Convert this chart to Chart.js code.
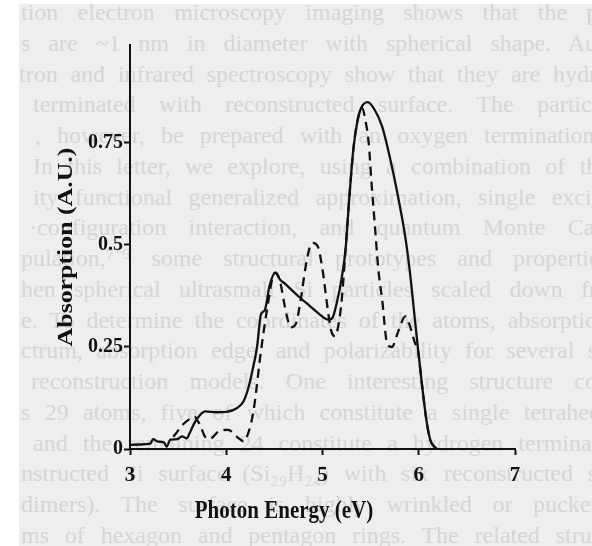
<!DOCTYPE html>
<html>
<head>
<meta charset="utf-8">
<script src="https://cdn.jsdelivr.net/npm/chart.js@4/dist/chart.umd.min.js"></script>
<style>
  html, body { margin: 0; padding: 0; background: #ffffff; }
  #page {
    position: absolute; left: 19px; top: 4px; width: 573px; height: 542px;
    background: #eeeeee; overflow: hidden;
  }
  #page div {
    position: absolute; white-space: nowrap; height: 30px;
    font-family: "Liberation Serif", serif; font-size: 24px; line-height: 24px;
    color: #d6d6d6; text-align: justify; text-align-last: justify;
  }
  #wrap { position: absolute; left: 0; top: 0; width: 592px; height: 546px; }
</style>
</head>
<body>
<div id="page"></div>
<div id="wrap"><canvas id="chart" width="592" height="546"></canvas></div>
<script>
// Photon energy (eV) and absorption (A.U.) for the two spectra
const solidEnergy = [3.00, 3.10, 3.21, 3.24, 3.29, 3.35, 3.38, 3.42, 3.49, 3.54, 3.59, 3.62, 3.67, 3.73, 3.78, 3.90, 4.00, 4.11, 4.18, 4.23, 4.27, 4.32, 4.36, 4.40, 4.45, 4.51, 4.56, 4.61, 4.70, 4.77, 4.87, 4.97, 5.06, 5.10, 5.15, 5.20, 5.24, 5.28, 5.32, 5.36, 5.40, 5.47, 5.54, 5.62, 5.72, 5.80, 5.86, 5.91, 5.95, 5.99, 6.03, 6.08, 6.12, 6.16, 6.19];
const solidAbs    = [0.010, 0.011, 0.013, 0.024, 0.018, 0.017, 0.006, 0.023, 0.024, 0.031, 0.026, 0.039, 0.064, 0.084, 0.092, 0.090, 0.091, 0.100, 0.117, 0.150, 0.190, 0.250, 0.330, 0.340, 0.400, 0.432, 0.415, 0.405, 0.385, 0.370, 0.350, 0.330, 0.317, 0.320, 0.360, 0.420, 0.490, 0.620, 0.733, 0.800, 0.835, 0.850, 0.832, 0.790, 0.693, 0.600, 0.520, 0.430, 0.340, 0.250, 0.165, 0.070, 0.022, 0.006, 0.000];

const dashedEnergy = [3.45, 3.50, 3.55, 3.61, 3.67, 3.70, 3.73, 3.78, 3.83, 3.92, 4.02, 4.11, 4.18, 4.23, 4.28, 4.31, 4.35, 4.39, 4.44, 4.48, 4.51, 4.56, 4.60, 4.63, 4.67, 4.72, 4.77, 4.82, 4.86, 4.90, 4.95, 5.00, 5.05, 5.09, 5.13, 5.17, 5.20, 5.24, 5.28, 5.32, 5.36, 5.41, 5.45, 5.48, 5.51, 5.55, 5.58, 5.62, 5.67, 5.72, 5.79, 5.86, 5.91, 5.96, 5.99, 6.03, 6.08, 6.12, 6.16, 6.19];
const dashedAbs    = [0.030, 0.045, 0.060, 0.072, 0.080, 0.070, 0.058, 0.030, 0.025, 0.043, 0.047, 0.030, 0.019, 0.040, 0.089, 0.140, 0.220, 0.290, 0.366, 0.420, 0.432, 0.410, 0.360, 0.325, 0.298, 0.305, 0.360, 0.440, 0.488, 0.505, 0.497, 0.440, 0.350, 0.290, 0.276, 0.310, 0.366, 0.490, 0.620, 0.733, 0.800, 0.836, 0.800, 0.750, 0.650, 0.530, 0.440, 0.366, 0.260, 0.250, 0.290, 0.325, 0.300, 0.260, 0.245, 0.165, 0.070, 0.022, 0.006, 0.000];

const xTicks = [3, 4, 5, 6, 7];
const yTicks = [0, 0.25, 0.5, 0.75];
const yTickLabels = ['0', '0.25', '0.5', '0.75'];
const xTitle = 'Photon Energy (eV)';
const yTitle = 'Absorption (A.U.)';

// Running text of the printed page behind the figure
const pageLines = [
  'tion electron microscopy imaging shows that the pa',
  's are ~1 nm in diameter with spherical shape. Aug',
  'tron and infrared spectroscopy show that they are hydro',
  'terminated with reconstructed surface. The particle',
  ', however, be prepared with an oxygen termination.\u2076',
  'In this letter, we explore, using a combination of the',
  'ity functional generalized approximation, single excita',
  '\u00b7configuration interaction, and quantum Monte Carl',
  'pulation,\u2077\u207b\u2079 some structural prototypes and properties',
  'hen spherical ultrasmall Si particles scaled down fro',
  'e. To determine the coordinates of the atoms, absorption',
  'ctrum, absorption edge, and polarizability for several su',
  'reconstruction models. One interesting structure con',
  's 29 atoms, five of which constitute a single tetrahedr',
  'and the remaining 24 constitute a hydrogen terminate',
  'nstructed Si surface (Si\u2082\u2089H\u2082\u2084) with six reconstructed su',
  'dimers). The surface is highly wrinkled or puckere',
  'ms of hexagon and pentagon rings. The related struct'
];
const pageIndent = [2, 2, 0, 14, 16, 14, 14, 10, 2, 2, 2, 2, 12, 2, 14, 2, 2, 2];

const page = document.getElementById('page');
pageLines.forEach((t, i) => {
  const d = document.createElement('div');
  d.textContent = t;
  d.style.top = (-4 + i * 30.75) + 'px';
  d.style.left = pageIndent[i] + 'px';
  d.style.width = (590 - pageIndent[i]) + 'px';
  page.appendChild(d);
});

const INK = '#111111';
const tickFont = { family: '"Liberation Serif", serif', size: 21, weight: 'bold' };

function toPoints(xs, ys) { return xs.map((x, i) => ({ x: x, y: ys[i] })); }

// Axis titles: the printed figure is slightly taller than wide, so the
// lettering is stretched along the vertical direction.
const axisTitles = {
  id: 'axisTitles',
  afterDraw(chart) {
    const { ctx, chartArea, scales } = chart;
    ctx.save();
    ctx.fillStyle = INK;
    ctx.font = 'bold 21px "Liberation Serif", serif';
    ctx.textAlign = 'center';
    ctx.textBaseline = 'alphabetic';
    ctx.save();
    ctx.translate(scales.x.getPixelForValue(4.6), 518);
    ctx.scale(1, 1.18);
    ctx.fillText(xTitle, 0, 0);
    ctx.restore();
    ctx.translate(72, (chartArea.top + chartArea.bottom) / 2);
    ctx.rotate(-Math.PI / 2);
    ctx.scale(1.23, 1);
    ctx.fillText(yTitle, 0, 0);
    ctx.restore();
  }
};

new Chart(document.getElementById('chart'), {
  type: 'line',
  data: {
    datasets: [
      {
        data: toPoints(solidEnergy, solidAbs),
        borderColor: INK, borderWidth: 2.3,
        pointRadius: 0, cubicInterpolationMode: 'monotone', fill: false
      },
      {
        data: toPoints(dashedEnergy, dashedAbs),
        borderColor: INK, borderWidth: 2.3, borderDash: [9, 6],
        pointRadius: 0, cubicInterpolationMode: 'monotone', fill: false
      }
    ]
  },
  options: {
    responsive: false,
    animation: false,
    events: [],
    layout: { padding: { top: 45, right: 77, left: 0, bottom: 0 } },
    plugins: { legend: { display: false }, tooltip: { enabled: false } },
    scales: {
      x: {
        type: 'linear', min: 3, max: 7,
        afterBuildTicks: s => { s.ticks = xTicks.map(v => ({ value: v })); },
        ticks: { color: INK, font: tickFont, padding: 8, maxRotation: 0, autoSkip: false },
        grid: { display: true, drawOnChartArea: false, drawTicks: true, tickLength: 6, tickWidth: 2, tickColor: INK },
        border: { display: true, color: INK, width: 2 },
        afterFit: s => { s.height = 97; }
      },
      y: {
        type: 'linear', min: 0, max: 0.99,
        afterBuildTicks: s => { s.ticks = yTicks.map(v => ({ value: v })); },
        ticks: { color: INK, font: { family: '"Liberation Serif", serif', size: 20, weight: 'bold' },
                 padding: 1, autoSkip: false, callback: (v, i) => yTickLabels[i] },
        grid: { display: true, drawOnChartArea: false, drawTicks: true, tickLength: 6, tickWidth: 2, tickColor: INK },
        border: { display: true, color: INK, width: 2 },
        afterFit: s => { s.width = 130; }
      }
    }
  },
  plugins: [axisTitles]
});
</script>
</body>
</html>
